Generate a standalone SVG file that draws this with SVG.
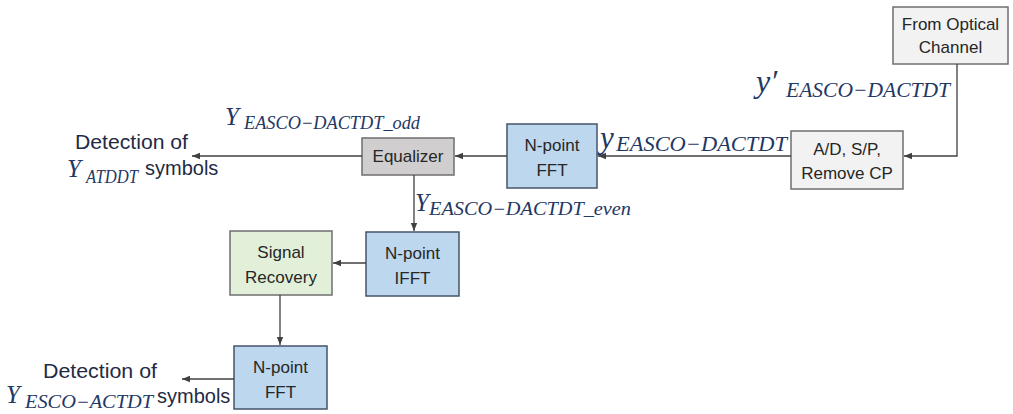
<svg xmlns="http://www.w3.org/2000/svg" width="1013" height="414" viewBox="0 0 1013 414">
<defs>
<marker id="arr" viewBox="0 0 10 10" refX="10" refY="5" markerWidth="8" markerHeight="8" markerUnits="userSpaceOnUse" orient="auto">
<path d="M0,1 L10,5 L0,9 Z" fill="#404040"/>
</marker>
<style>
.box{stroke:#6f6f6f;stroke-width:1.5}
.lgray{fill:#f2f2f2}
.gray{fill:#d0cece}
.blue{fill:#bdd7ee;stroke:#44546a}
.green{fill:#e2f0d9}
.t{font-family:"Liberation Sans",Arial,sans-serif;font-size:17px;fill:#262626;text-anchor:middle}
.lbl{font-family:"Liberation Sans",Arial,sans-serif;font-size:20px;fill:#1f2a44}
.m{font-family:"Liberation Serif","Times New Roman",serif;font-style:italic;fill:#1f3864}
.c{stroke:#404040;stroke-width:1.3;fill:none;marker-end:url(#arr)}
</style>
</defs>
<rect width="1013" height="414" fill="#ffffff"/>

<g id="optical">
<rect class="box lgray" x="893" y="7" width="115" height="57"/>
<text class="t" x="950.5" y="30">From Optical</text>
<text class="t" x="950.5" y="53">Channel</text>
</g>

<g id="adsp">
<rect class="box lgray" x="791" y="131" width="112" height="58"/>
<text class="t" x="847" y="155">A/D, S/P,</text>
<text class="t" x="847" y="179">Remove CP</text>
</g>

<g id="fft1">
<rect class="box blue" x="507" y="124" width="90" height="64"/>
<text class="t" x="552" y="151">N-point</text>
<text class="t" x="552" y="176">FFT</text>
</g>

<g id="equalizer">
<rect class="box gray" x="362" y="138" width="92" height="37"/>
<text class="t" x="408" y="162">Equalizer</text>
</g>

<g id="ifft">
<rect class="box blue" x="366" y="232" width="93" height="64"/>
<text class="t" x="412.5" y="259">N-point</text>
<text class="t" x="412.5" y="284">IFFT</text>
</g>

<g id="recovery">
<rect class="box green" x="230" y="231" width="102" height="64"/>
<text class="t" x="281" y="258">Signal</text>
<text class="t" x="281" y="283">Recovery</text>
</g>

<g id="fft2">
<rect class="box blue" x="234" y="346" width="93" height="63"/>
<text class="t" x="280.5" y="373">N-point</text>
<text class="t" x="280.5" y="398">FFT</text>
</g>

<g id="connectors">
<path class="c" d="M957,64 V156 H904"/>
<path class="c" d="M791,156 H598"/>
<path class="c" d="M507,156 H455"/>
<path class="c" d="M362,156 H192"/>
<path class="c" d="M414,175 V231"/>
<path class="c" d="M366,263 H333"/>
<path class="c" d="M280,295 V345"/>
<path class="c" d="M234,379 H182"/>
</g>

<g id="labels">
<text class="m" x="756" y="92" font-size="32">y′</text>
<text class="m" x="786" y="97" font-size="21" textLength="164" lengthAdjust="spacingAndGlyphs">EASCO−DACTDT</text>

<text class="m" x="600" y="148" font-size="31">y</text>
<text class="m" x="616" y="151" font-size="21" textLength="171" lengthAdjust="spacingAndGlyphs">EASCO−DACTDT</text>

<text class="m" x="225" y="125" font-size="25">Y</text>
<text class="m" x="244" y="129" font-size="18" textLength="176" lengthAdjust="spacingAndGlyphs">EASCO−DACTDT_odd</text>

<text class="m" x="415" y="211" font-size="25">Y</text>
<text class="m" x="429" y="215" font-size="18" textLength="202" lengthAdjust="spacingAndGlyphs">EASCO−DACTDT_even</text>

<text class="lbl" x="75" y="149" textLength="113" lengthAdjust="spacingAndGlyphs">Detection of</text>
<text class="m" x="67" y="177" font-size="25">Y</text>
<text class="m" x="86" y="183" font-size="18" textLength="52" lengthAdjust="spacingAndGlyphs">ATDDT</text>
<text class="lbl" x="145" y="175" font-size="19">symbols</text>

<text class="lbl" x="43" y="378" textLength="114" lengthAdjust="spacingAndGlyphs">Detection of</text>
<text class="m" x="6" y="403" font-size="25">Y</text>
<text class="m" x="25" y="408" font-size="18" textLength="128" lengthAdjust="spacingAndGlyphs">ESCO−ACTDT</text>
<text class="lbl" x="157" y="403" font-size="16">symbols</text>
</g>
</svg>
